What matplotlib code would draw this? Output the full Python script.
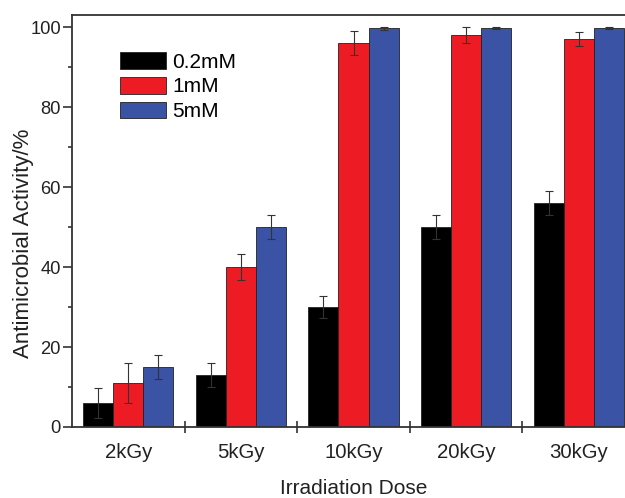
import numpy as np
import matplotlib.pyplot as plt
from matplotlib.ticker import MultipleLocator, FixedLocator, NullFormatter

plt.rcParams['font.family'] = ['Liberation Sans', 'DejaVu Sans']

doses = ['2kGy', '5kGy', '10kGy', '20kGy', '30kGy']
concs = ['0.2mM', '1mM', '5mM']
colores = ['#000000', '#ED1C24', '#3A53A4']

act_02 = [6, 13, 30, 50, 56]
act_1 = [11, 40, 96, 98, 97]
act_5 = [15, 50, 99.7, 99.8, 99.8]
err_02 = [3.7, 3.1, 2.8, 3.0, 3.1]
err_1 = [5.0, 3.3, 3.0, 2.0, 1.7]
err_5 = [3.0, 3.1, 0.3, 0.3, 0.3]

valores = [act_02, act_1, act_5]
errores = [err_02, err_1, err_5]

fig = plt.figure(figsize=(6.25, 4.98), dpi=100)
ax = fig.add_axes([0.1152, 0.1426, 0.9008, 0.827])

x = np.arange(1, len(doses) + 1)
ancho = 0.267
for i in range(3):
    ax.bar(x + (i - 1) * ancho, valores[i], ancho, yerr=errores[i],
           color=colores[i], edgecolor='#222222', linewidth=0.6,
           label=concs[i], capsize=3.2,
           error_kw=dict(ecolor='#333333', elinewidth=0.8, capthick=0.8))

ax.set_xlim(0.5, 5.5)
ax.set_ylim(0, 103)

# etiquetas de dosis
ax.set_xticks(x)
ax.set_xticklabels(doses, fontsize=14.7, color='#222222')
ax.tick_params(axis='x', which='major', length=0, pad=11.5)
# marcas entre grupos
ax.xaxis.set_minor_locator(FixedLocator([1.5, 2.5, 3.5, 4.5]))
ax.xaxis.set_minor_formatter(NullFormatter())
ax.tick_params(axis='x', which='minor', direction='inout', length=9, width=1.2, color='#333333')

ax.yaxis.set_major_locator(MultipleLocator(20))
ax.yaxis.set_minor_locator(MultipleLocator(10))
ax.tick_params(axis='y', which='major', direction='out', length=6.5, width=1.2, pad=1.5,
               labelsize=13.2, colors='#333333', labelcolor='#222222')
ax.tick_params(axis='y', which='minor', direction='out', length=3, width=1.2, color='#333333')

for s in ax.spines.values():
    s.set_linewidth(1.3)
    s.set_color('#333333')

ax.set_xlabel('Irradiation Dose', fontsize=15, color='#222222', labelpad=12)
ax.set_ylabel('Antimicrobial Activity/%', fontsize=16, color='#222222')
ax.yaxis.set_label_coords(-0.068, 0.447)

ax.legend(loc='upper left', bbox_to_anchor=(0.085, 0.91), frameon=False,
          fontsize=15, handlelength=2.2, handleheight=0.85, labelspacing=0.25,
          handletextpad=0.3, borderpad=0, borderaxespad=0)

fig.savefig('out.png', dpi=100)
